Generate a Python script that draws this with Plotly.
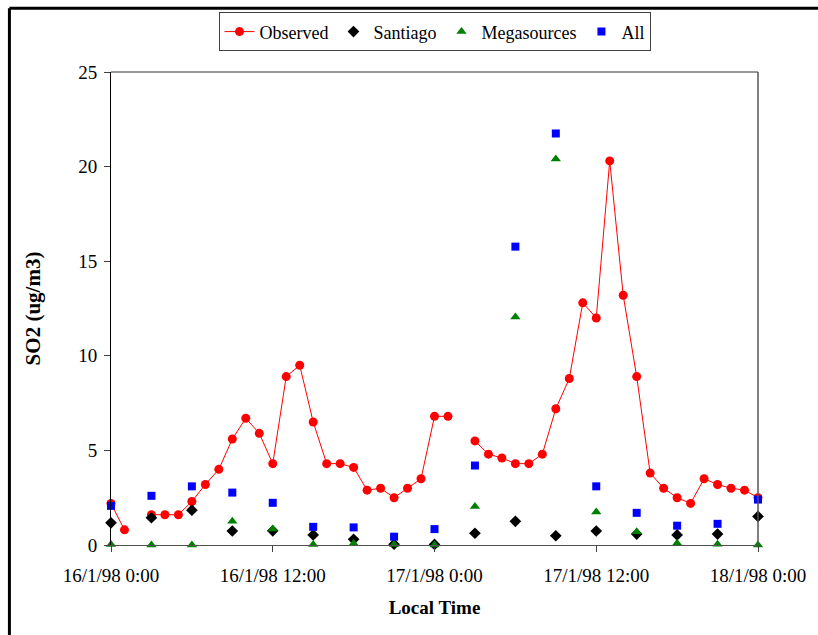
import datetime as dt
import plotly.graph_objects as go

start = dt.datetime(1998, 1, 16, 0, 0)

# Observed hourly SO2 (ug/m3), hours 0..48 from 16/1/98 0:00 (None = missing)
obs_hours = list(range(0, 49))
observed = [2.2, 0.8, None, 1.6, 1.6, 1.6, 2.3, 3.2, 4.0, 5.6,
            6.7, 5.9, 4.3, 8.9, 9.5, 6.5, 4.3, 4.3, 4.1, 2.9,
            3.0, 2.5, 3.0, 3.5, 6.8, 6.8, None, 5.5, 4.8, 4.6,
            4.3, 4.3, 4.8, 7.2, 8.8, 12.8, 12.0, 20.3, 13.2, 8.9,
            3.8, 3.0, 2.5, 2.2, 3.5, 3.2, 3.0, 2.9, 2.5]

# Model output every 3 hours
model_hours = list(range(0, 49, 3))
santiago = [1.17, 1.44, 1.84, 0.74, 0.75, 0.53, 0.3, 0.04, 0.03,
            0.62, 1.25, 0.49, 0.74, 0.58, 0.53, 0.58, 1.51]
megasources = [0.02, 0.0, 0.0, 1.26, 0.84, 0.02, 0.08, 0.02, 0.0,
               2.03, 12.05, 20.4, 1.75, 0.7, 0.09, 0.04, 0.0]
all_sources = [2.07, 2.6, 3.1, 2.77, 2.23, 0.96, 0.93, 0.44, 0.84,
               4.2, 15.77, 21.75, 3.1, 1.7, 1.02, 1.12, 2.4]

obs_x = [start + dt.timedelta(hours=h) for h in obs_hours]
mod_x = [start + dt.timedelta(hours=h) for h in model_hours]

FONT = "Liberation Serif, Times New Roman, serif"

fig = go.Figure()
fig.add_trace(go.Scatter(
    x=obs_x, y=observed, name="Observed", mode="lines+markers",
    line=dict(color="#FF0000", width=1),
    marker=dict(symbol="circle", size=9, color="#FF0000"),
    connectgaps=False, cliponaxis=False))
fig.add_trace(go.Scatter(
    x=mod_x, y=santiago, name="Santiago", mode="markers",
    marker=dict(symbol="diamond", size=9, color="#000000"),
    cliponaxis=False))
fig.add_trace(go.Scatter(
    x=mod_x, y=megasources, name="Megasources", mode="markers",
    marker=dict(symbol="triangle-up", size=9, color="#008000"),
    cliponaxis=False))
fig.add_trace(go.Scatter(
    x=mod_x, y=all_sources, name="All", mode="markers",
    marker=dict(symbol="square", size=8, color="#0000FF"),
    cliponaxis=False))

fig.update_layout(
    width=818, height=635,
    margin=dict(l=111, r=57, t=70, b=90),
    paper_bgcolor="white", plot_bgcolor="white",
    font=dict(family=FONT, size=19, color="black"),
    showlegend=True,
    legend=dict(orientation="h", x=0.5, xanchor="center",
                y=1.126, yanchor="top",
                bordercolor="#404040", borderwidth=1,
                font=dict(family=FONT, size=18, color="black"),
                itemwidth=30, tracegroupgap=0),
    xaxis=dict(
        type="date",
        range=[start, start + dt.timedelta(hours=48)],
        dtick=12 * 3600 * 1000, tick0=start,
        tickformat="%-d/%-m/%y %-H:%M",
        ticks="outside", ticklen=6, tickcolor="#404040",
        ticklabelstandoff=7,
        showline=True, linecolor="#505050", linewidth=1,
        showgrid=False, zeroline=False,
        title=dict(text="<b>Local Time</b>", standoff=15,
                   font=dict(family=FONT, size=19)),
        tickfont=dict(family=FONT, size=19)),
    yaxis=dict(
        range=[0, 25], dtick=5,
        ticks="outside", ticklen=6, tickcolor="#404040",
        ticklabelstandoff=3,
        showline=True, linecolor="black", linewidth=1,
        showgrid=False, zeroline=False,
        title=dict(text="<b>SO2 (ug/m3)</b>", standoff=31,
                   font=dict(family=FONT, size=21)),
        tickfont=dict(family=FONT, size=19)),
    shapes=[
        # plot-area top and right borders
        dict(type="line", xref="paper", yref="paper", x0=0, x1=1, y0=1, y1=1,
             line=dict(color="#999999", width=2)),
        dict(type="line", xref="paper", yref="paper", x0=1, x1=1, y0=0, y1=1,
             line=dict(color="#555555", width=1.5)),
        # outer frame (left and top)
        dict(type="line", xref="paper", yref="paper", x0=-0.157, x1=-0.157,
             y0=-0.2, y1=1.135, line=dict(color="black", width=3)),
        dict(type="line", xref="paper", yref="paper", x0=-0.157, x1=1.1,
             y0=1.135, y1=1.135, line=dict(color="black", width=3)),
    ],
)

fig.write_html("out.html")
